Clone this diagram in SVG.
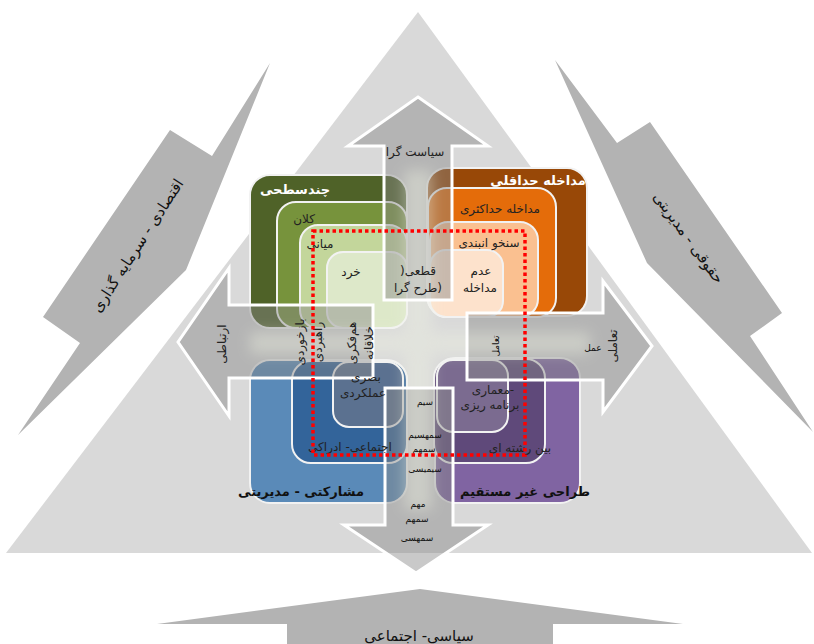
<svg xmlns="http://www.w3.org/2000/svg" width="814" height="644" viewBox="0 0 814 644">
<defs>
<filter id="glow" x="-30%" y="-30%" width="160%" height="160%"><feGaussianBlur stdDeviation="7"/></filter>
</defs>
<style>
text { font-family: "DejaVu Sans", "Noto Sans", sans-serif; }
.big { font-size: 15px; fill: #111; }
.title { font-size: 13px; font-weight: bold; }
.lbl { font-size: 12px; fill: #222; }
.sm { font-size: 9px; fill: #111; }
.box { stroke: #f2f2f2; stroke-width: 2; }
.xa { fill: #888; fill-opacity: 0.45; }
.xo { fill: none; stroke: #fff; stroke-width: 3; }
.dg { fill: #b3b3b3; }
</style>
<rect width="814" height="644" fill="#fff"/>
<polygon id="triangle" points="418,12 6,553 812,553" fill="#d9d9d9"/>

<g id="arrow-economic">
<polygon class="dg" points="270,63 212,156 170,130 43,317 80,343 18,435 186,270"/>
<text class="big" transform="translate(138,246) rotate(-57)" text-anchor="middle" dominant-baseline="middle">اقتصادی - سرمایه گذاری</text>
</g>
<g id="arrow-legal">
<polygon class="dg" points="555,60 617,143 650,122 782,313 750,336 813,432 647,263"/>
<text class="big" transform="translate(688,238) rotate(54)" text-anchor="middle" dominant-baseline="middle">حقوقی - مدیریتی</text>
</g>
<g id="arrow-political">
<polygon class="dg" points="420,589 683,624 553,624 553,644 287,644 287,624 157,624"/>
<text class="big" x="419" y="641" text-anchor="middle">سیاسی- اجتماعی</text>
</g>

<g id="multilevel">
<rect class="box" x="250" y="175" width="157" height="153" rx="20" fill="#4f6228"/>
<rect class="box" x="277" y="202" width="130" height="126" rx="19" fill="#77933c"/>
<rect class="box" x="300" y="225" width="107" height="103" rx="18" fill="#c3d69b"/>
<rect class="box" x="327" y="252" width="80" height="76" rx="16" fill="#dde8c9"/>
</g>
<g id="intervention">
<rect class="box" x="427" y="168" width="160" height="148" rx="20" fill="#984807"/>
<rect class="box" x="428" y="188" width="128" height="129" rx="19" fill="#e46c0a"/>
<rect class="box" x="430" y="222" width="108" height="95" rx="18" fill="#fac090"/>
<rect class="box" x="430" y="250" width="73" height="67" rx="16" fill="#fde2cc"/>
</g>
<g id="participatory">
<rect class="box" x="250" y="360" width="157" height="143" rx="20" fill="#5a8ab8"/>
<rect class="box" x="292" y="361" width="115" height="102" rx="19" fill="#33649a"/>
<rect class="box" x="333" y="362" width="70" height="65" rx="16" fill="#5b7190"/>
</g>
<g id="indirect">
<rect class="box" x="435" y="358" width="145" height="145" rx="20" fill="#8064a2"/>
<rect class="box" x="434" y="359" width="111" height="104" rx="19" fill="#5f497a"/>
<rect class="box" x="437" y="360" width="71" height="72" rx="16" fill="#7b6b90"/>
</g>

<g id="connectors">
<path class="xa" d="M418,97 L488,146 L452,146 L452,300 L384,300 L384,146 L348,146 Z M178,342 L229,268 L229,305 L373,305 L373,378 L229,378 L229,416 Z M652,346 L603,412 L603,380 L467,380 L467,313 L603,313 L603,281 Z M416,573 L344,525 L385,525 L385,388 L453,388 L453,525 L488,525 Z"/>
<path d="M250,332 H590 V354 H250 Z M404,170 H432 V510 H404 Z" fill="#eef2e2" opacity="0.4" filter="url(#glow)"/>
<polygon class="xo" points="418,97 488,146 452,146 452,300 384,300 384,146 348,146"/>
<polygon class="xo" points="178,342 229,268 229,305 373,305 373,378 229,378 229,416"/>
<polygon class="xo" points="652,346 603,412 603,380 467,380 467,313 603,313 603,281"/>
<polygon class="xo" points="416,573 344,525 385,525 385,388 453,388 453,525 488,525"/>
</g>

<g id="labels">
<text class="title" x="295" y="194" text-anchor="middle" fill="#fff">چندسطحی</text>
<text class="lbl" x="304" y="223" text-anchor="middle">کلان</text>
<text class="lbl" x="320" y="248" text-anchor="middle" fill="#333">میانی</text>
<text class="lbl" x="351" y="276" text-anchor="middle" fill="#444">خرد</text>
<text class="lbl" x="418" y="275" text-anchor="middle" fill="#444">)قطعی</text>
<text class="lbl" x="418" y="292" text-anchor="middle" fill="#444">طرح گرا)</text>
<text class="title" x="538" y="185" text-anchor="middle" fill="#fff">مداخله حداقلی</text>
<text class="lbl" x="500" y="213" text-anchor="middle">مداخله حداکثری</text>
<text class="lbl" x="489" y="247" text-anchor="middle" fill="#333">سنخو انبندی</text>
<text class="lbl" x="481" y="275" text-anchor="middle" fill="#444">عدم</text>
<text class="lbl" x="480" y="292" text-anchor="middle" fill="#444">مداخله</text>
<text class="lbl" x="415" y="156" text-anchor="middle">سیاست گرا</text>
<text class="lbl" transform="translate(222,344) rotate(-90)" text-anchor="middle" dominant-baseline="middle">ارتباطی</text>
<text class="lbl" transform="translate(300,342) rotate(-90)" text-anchor="middle" dominant-baseline="middle">بازخوردی</text>
<text class="lbl" transform="translate(318,342) rotate(-90)" text-anchor="middle" dominant-baseline="middle">راهبردی</text>
<text class="lbl" transform="translate(352,343) rotate(-90)" text-anchor="middle" dominant-baseline="middle">هم‌فکری</text>
<text class="lbl" transform="translate(369,343) rotate(-90)" text-anchor="middle" dominant-baseline="middle">خلاقانه</text>
<text class="lbl" transform="translate(613,346) rotate(-90)" text-anchor="middle" dominant-baseline="middle">تعاملی</text>
<text class="sm" x="593" y="351" text-anchor="middle">عمل</text>
<text class="sm" transform="translate(496,346) rotate(-90)" text-anchor="middle" dominant-baseline="middle">تعامل</text>
<text class="sm" x="425" y="405" text-anchor="middle">سیم</text>
<text class="sm" x="425" y="438" text-anchor="middle">سمهسیم</text>
<text class="sm" x="424" y="452" text-anchor="middle">سمهم</text>
<text class="sm" x="425" y="472" text-anchor="middle">سیمیسی</text>
<text class="sm" x="418" y="507" text-anchor="middle">مهم</text>
<text class="sm" x="417" y="522" text-anchor="middle">سمهم</text>
<text class="sm" x="417" y="541" text-anchor="middle">سمهسی</text>
<text class="title" x="301" y="496" text-anchor="middle" fill="#111">مشارکتی - مدیریتی</text>
<text class="lbl" x="350" y="451" text-anchor="middle" fill="#3a4656">اجتماعی- ادراکی</text>
<text class="lbl" x="366" y="381" text-anchor="middle" fill="#e8ecf2">بصری</text>
<text class="lbl" x="363" y="397" text-anchor="middle" fill="#e8ecf2">عملکردی</text>
<text class="title" x="525" y="496" text-anchor="middle" fill="#111">طراحی غیر مستقیم</text>
<text class="lbl" x="520" y="452" text-anchor="middle" fill="#222">بین رشته ای</text>
<text class="lbl" x="493" y="394" text-anchor="middle" fill="#e6e0ee">معماری-</text>
<text class="lbl" x="490" y="409" text-anchor="middle" fill="#e6e0ee">برنامه ریزی</text>
</g>

<rect id="focus" x="313" y="231" width="212" height="224" fill="none" stroke="#ff0000" stroke-width="3.5" stroke-dasharray="3.5 3"/>
</svg>
